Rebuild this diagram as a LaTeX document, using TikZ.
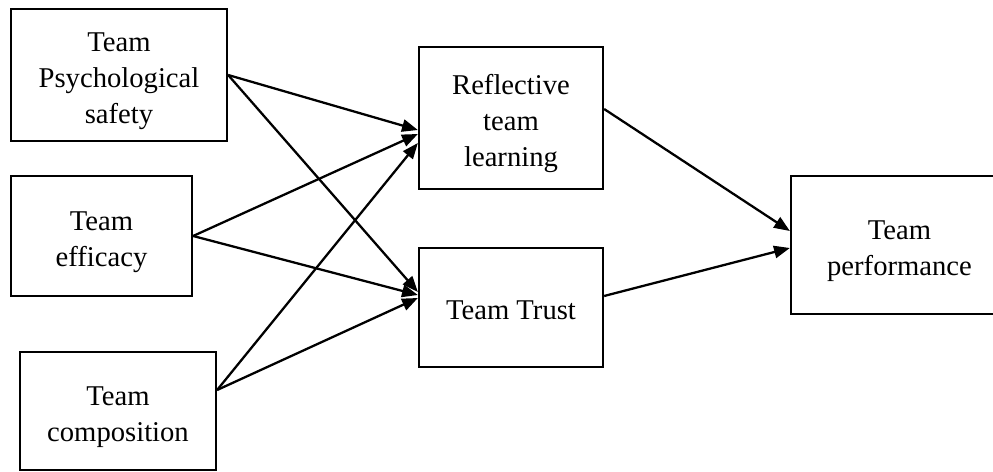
\documentclass[tikz,border=0pt]{standalone}
\usepackage{fontspec}
\setmainfont{Liberation Serif}
\usetikzlibrary{arrows.meta,calc}
% centred block of lines for the box labels, set a little low in its box
\newcommand{\boxlines}[1]{\raisebox{-2.8pt}[\height][\depth]{\begin{tabular}{@{}c@{}}#1\end{tabular}}}
\begin{document}
\begin{tikzpicture}[x=0.02cm,y=-0.02cm,
  box/.style={draw,line width=1.3pt,inner sep=0pt,
    font=\fontsize{16.3pt}{20.5pt}\selectfont},
  link/.style={line width=1.3pt,-{Triangle[length=9pt,width=7pt]}}]
  \clip (0,0) rectangle (993,472);
  \useasboundingbox (0,0) rectangle (993,472);

  % antecedents
  \node[box,minimum width=4.32cm,minimum height=2.64cm] (psy) at (119,75)
    {\boxlines{Team\\Psychological\\safety}};
  \node[box,minimum width=3.62cm,minimum height=2.40cm] (eff) at (101.5,236)
    {\boxlines{Team\\efficacy}};
  \node[box,minimum width=3.92cm,minimum height=2.36cm] (comp) at (118,411)
    {\boxlines{Team\\composition}};

  % mediators
  \node[box,minimum width=3.68cm,minimum height=2.84cm] (refl) at (511,118)
    {\boxlines{Reflective\\team\\learning}};
  \node[box,minimum width=3.68cm,minimum height=2.38cm] (trust) at (511,307.5)
    {\boxlines{Team Trust}};

  % outcome
  \node[box,minimum width=4.34cm,minimum height=2.76cm] (perf) at (899.5,245)
    {\boxlines{Team\\performance}};

  % paths into reflective team learning
  \draw[link] (psy.east) -- ($(refl.west)+(0,12)$);
  \draw[link] (eff.east) -- ($(refl.west)+(0,16)$);
  \draw[link] ($(comp.east)+(0,-21)$) -- ($(refl.west)+(0,25)$);

  % paths into team trust
  \draw[link] (psy.east) -- ($(trust.west)+(0,-15.5)$);
  \draw[link] (eff.east) -- ($(trust.west)+(0,-12.5)$);
  \draw[link] ($(comp.east)+(0,-21)$) -- ($(trust.west)+(0,-9.5)$);

  % paths into team performance
  \draw[link] ($(refl.east)+(0,-9)$) -- ($(perf.west)+(0,-14)$);
  \draw[link] ($(trust.east)+(0,-11.5)$) -- ($(perf.west)+(0,3)$);
\end{tikzpicture}
\end{document}
